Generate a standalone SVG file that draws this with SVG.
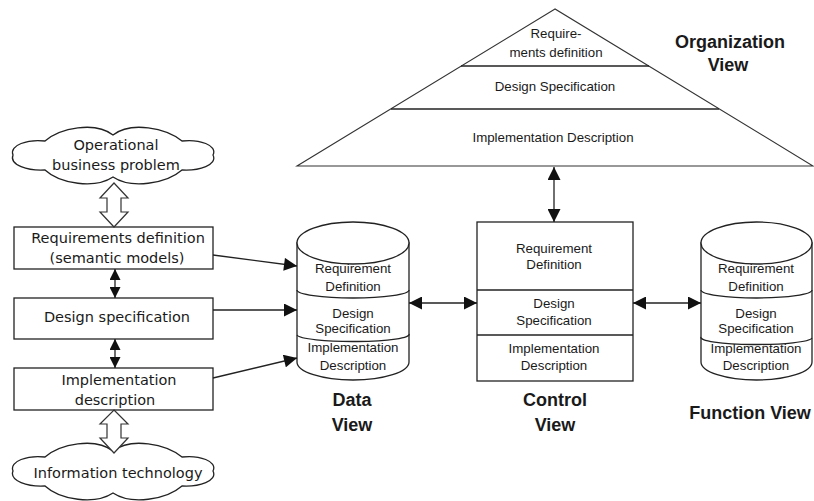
<svg xmlns="http://www.w3.org/2000/svg" width="814" height="501" viewBox="0 0 814 501">
<style>
.ln{fill:none;stroke:#222;stroke-width:1.3}
.sh{fill:#fff;stroke:#222;stroke-width:1.3}
.tri{fill:#fff;stroke:#333;stroke-width:1.1}
.t1{font-family:"DejaVu Sans",sans-serif;font-size:14.5px;fill:#1a1a1a;text-anchor:middle}
.t2{font-family:"Liberation Sans",Arial,sans-serif;font-size:13.3px;fill:#1a1a1a;text-anchor:middle}
.tb{font-family:"Liberation Sans",Arial,sans-serif;font-size:18px;font-weight:bold;fill:#1a1a1a;text-anchor:middle}
.hollow{fill:#fff;stroke:#333;stroke-width:1.2}
</style>
<defs>
<marker id="ah" viewBox="0 0 14 14" refX="14" refY="7" markerWidth="14" markerHeight="13" markerUnits="userSpaceOnUse" orient="auto-start-reverse">
<path d="M0,0 L14,7 L0,14 Z" fill="#111"/>
</marker>
<marker id="as" viewBox="0 0 12 12" refX="12" refY="6" markerWidth="11" markerHeight="11" markerUnits="userSpaceOnUse" orient="auto-start-reverse">
<path d="M0,0 L12,6 L0,12 Z" fill="#111"/>
</marker>
<path id="cloud" d="M13,155 C9,145 28,139 45,141 C60,128 95,121 113,135 C131,121 166,128 182,141 C199,139 218,145 213,155 C218,165 199,171 182,170 C166,184 131,189 113,177 C95,189 60,184 45,170 C28,171 9,165 13,155 Z"/>
</defs>

<!-- Organization view (triangle) -->
<g id="organization-view">
<polygon class="tri" points="555,9 297,166 813,166"/>
<line class="ln" x1="461" y1="66" x2="649" y2="66"/>
<line class="ln" x1="391" y1="109" x2="719" y2="109"/>
<text class="t2" x="556" y="38">Require-</text>
<text class="t2" x="556" y="57">ments definition</text>
<text class="t2" x="555" y="91">Design Specification</text>
<text class="t2" x="553" y="142">Implementation Description</text>
<text class="tb" x="730" y="48">Organization</text>
<text class="tb" x="728" y="71">View</text>
</g>

<!-- Left column -->
<g id="cloud-business">
<use href="#cloud" class="sh"/>
<text class="t1" x="116" y="150">Operational</text>
<text class="t1" x="116" y="170">business problem</text>
</g>
<g id="box-requirements">
<rect class="sh" x="14" y="227" width="199" height="42"/>
<text class="t1" x="118" y="243">Requirements definition</text>
<text class="t1" x="117" y="263">(semantic models)</text>
</g>
<g id="box-design">
<rect class="sh" x="14" y="298" width="199" height="41"/>
<text class="t1" x="117" y="322">Design specification</text>
</g>
<g id="box-implementation">
<rect class="sh" x="14" y="368" width="199" height="42"/>
<text class="t1" x="119" y="385">Implementation</text>
<text class="t1" x="115" y="405">description</text>
</g>
<g id="cloud-it">
<use href="#cloud" class="sh" transform="translate(0,316)"/>
<text class="t1" x="118" y="478">Information technology</text>
</g>

<!-- Data view -->
<g id="data-view">
<path class="sh" d="M297,243 L297,362 A56,18 0 0 0 409,362 L409,243 Z"/>
<ellipse class="sh" cx="353" cy="243" rx="56" ry="21"/>
<path class="ln" d="M297,290 A56,8 0 0 0 409,290"/>
<path class="ln" d="M297,335 A56,7 0 0 0 409,334"/>
<text class="t2" x="353" y="273">Requirement</text>
<text class="t2" x="353" y="291">Definition</text>
<text class="t2" x="353" y="318">Design</text>
<text class="t2" x="353" y="333">Specification</text>
<text class="t2" x="353" y="352">Implementation</text>
<text class="t2" x="353" y="370">Description</text>
<text class="tb" x="352" y="406">Data</text>
<text class="tb" x="352" y="431">View</text>
</g>

<!-- Control view -->
<g id="control-view">
<rect class="sh" x="477" y="222" width="156" height="159"/>
<line class="ln" x1="477" y1="290" x2="633" y2="290"/>
<line class="ln" x1="477" y1="335" x2="633" y2="335"/>
<text class="t2" x="554" y="253">Requirement</text>
<text class="t2" x="554" y="269">Definition</text>
<text class="t2" x="554" y="308">Design</text>
<text class="t2" x="554" y="325">Specification</text>
<text class="t2" x="554" y="353">Implementation</text>
<text class="t2" x="554" y="370">Description</text>
<text class="tb" x="555" y="406">Control</text>
<text class="tb" x="555" y="431">View</text>
</g>

<!-- Function view -->
<g id="function-view">
<path class="sh" d="M701,243 L701,362 A55.5,18 0 0 0 812,362 L812,243 Z"/>
<ellipse class="sh" cx="756.5" cy="243" rx="55.5" ry="21"/>
<path class="ln" d="M701,290 A55.5,8 0 0 0 812,290"/>
<path class="ln" d="M701,337 A55.5,7 0 0 0 812,338"/>
<text class="t2" x="756" y="273">Requirement</text>
<text class="t2" x="756" y="291">Definition</text>
<text class="t2" x="756" y="318">Design</text>
<text class="t2" x="756" y="333">Specification</text>
<text class="t2" x="756" y="353">Implementation</text>
<text class="t2" x="756" y="370">Description</text>
<text class="tb" x="750" y="419">Function View</text>
</g>

<!-- Connectors -->
<g id="connectors">
<polygon class="hollow" points="114,183 128,198 121,198 121,212 128,212 114,227 100,212 107,212 107,198 100,198"/>
<polygon class="hollow" points="114,410 128,424 121,424 121,438 128,438 114,453 100,438 107,438 107,424 100,424"/>
<line class="ln" x1="115" y1="269" x2="115" y2="298" marker-start="url(#as)" marker-end="url(#as)"/>
<line class="ln" x1="115" y1="339" x2="115" y2="368" marker-start="url(#as)" marker-end="url(#as)"/>
<line class="ln" x1="213" y1="255" x2="297" y2="266" marker-end="url(#ah)"/>
<line class="ln" x1="213" y1="310" x2="297" y2="310" marker-end="url(#ah)"/>
<line class="ln" x1="213" y1="378" x2="297" y2="358" marker-end="url(#ah)"/>
<line class="ln" x1="409" y1="303" x2="477" y2="303" marker-start="url(#ah)" marker-end="url(#ah)"/>
<line class="ln" x1="633" y1="303" x2="701" y2="303" marker-start="url(#ah)" marker-end="url(#ah)"/>
<line class="ln" x1="554" y1="167" x2="554" y2="222" marker-start="url(#ah)" marker-end="url(#ah)"/>
</g>
</svg>
